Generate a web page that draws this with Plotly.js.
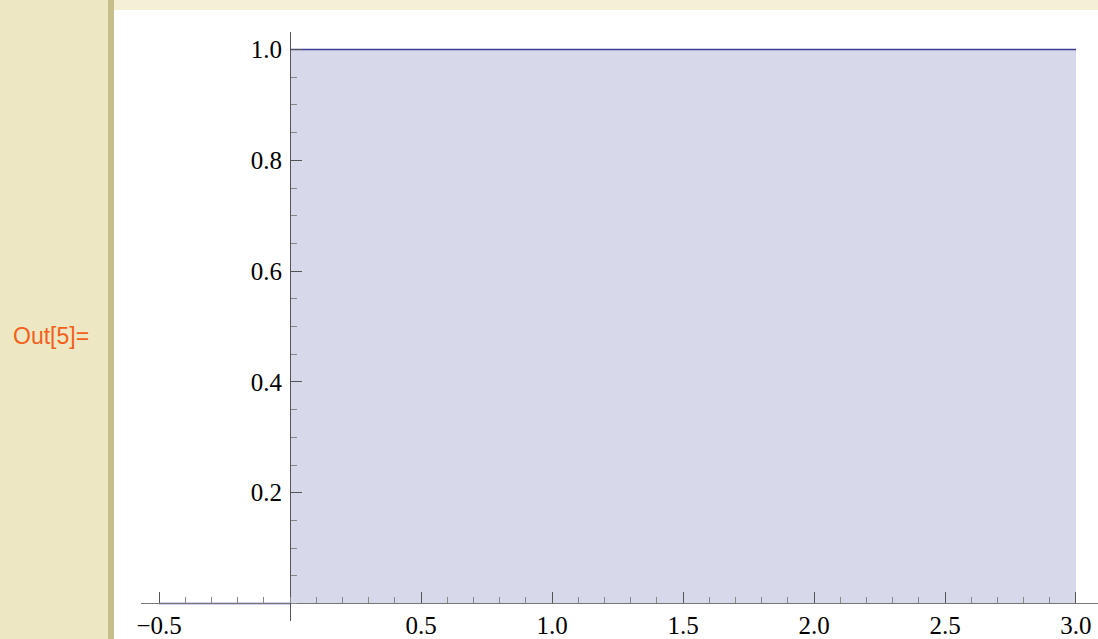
<!DOCTYPE html>
<html>
<head>
<meta charset="utf-8">
<script src="https://cdn.plot.ly/plotly-3.0.1.min.js"></script>
<style>
  html, body { margin: 0; padding: 0; background: #ffffff; }
  #chart { width: 1098px; height: 639px; }
</style>
</head>
<body>
<div id="chart"></div>
<script>
// ---- data ----
const lowX = [-0.5, 0];        // UnitStep = 0 for x < 0
const lowY = [0, 0];
const highX = [0, 3];          // UnitStep = 1 for x >= 0
const highY = [1, 1];

const xTickVals = [-0.5, 0.5, 1.0, 1.5, 2.0, 2.5, 3.0];
const xTickText = ["\u22120.5", "0.5", "1.0", "1.5", "2.0", "2.5", "3.0"];
const yTickVals = [0.2, 0.4, 0.6, 0.8, 1.0];
const yTickText = ["0.2", "0.4", "0.6", "0.8", "1.0"];

// ---- geometry ----
const W = 1098, H = 639;
const mL = 141, mR = 0, mT = 32, mB = 18;
const plotW = W - mL - mR, plotH = H - mT - mB;
const xRange = [-0.569, 3.084];
const yRange = [-0.0316, 1.0316];
const px2x = p => (p - mL) / plotW;
const py2y = p => (H - mB - p) / plotH;

const lineColor = "#3d3d99";
const fillColor = "#d8d8eb";
const tickFont = { family: "Liberation Serif, Times New Roman, serif", size: 25, color: "#000000" };

const traces = [
  {
    x: highX, y: highY, type: "scatter", mode: "lines",
    line: { color: lineColor, width: 1.5 },
    fill: "tozeroy", fillcolor: fillColor,
    hoverinfo: "skip", showlegend: false
  },
  {
    x: lowX, y: lowY, type: "scatter", mode: "lines",
    line: { color: lineColor, width: 1.5 },
    hoverinfo: "skip", showlegend: false
  }
];

const layout = {
  width: W, height: H,
  margin: { l: mL, r: mR, t: mT, b: mB, pad: 0 },
  paper_bgcolor: "#ffffff",
  plot_bgcolor: "rgba(0,0,0,0)",
  showlegend: false,
  xaxis: {
    range: xRange, anchor: "free",
    position: (0 - yRange[0]) / (yRange[1] - yRange[0]),
    showgrid: false, zeroline: false,
    showline: true, linecolor: "#777777", linewidth: 1,
    tickmode: "array", tickvals: xTickVals, ticktext: xTickText,
    ticks: "inside", ticklen: 11, tickwidth: 1, tickcolor: "#555555",
    tickfont: tickFont,
    minor: { tickmode: "linear", tick0: 0, dtick: 0.1, ticks: "inside", ticklen: 6, tickwidth: 1, tickcolor: "#888888", showgrid: false },
    fixedrange: true
  },
  yaxis: {
    range: yRange, anchor: "free",
    position: (0 - xRange[0]) / (xRange[1] - xRange[0]),
    showgrid: false, zeroline: false,
    showline: true, linecolor: "#555555", linewidth: 1,
    tickmode: "array", tickvals: yTickVals, ticktext: yTickText,
    ticks: "inside", ticklen: 11, tickwidth: 1, tickcolor: "#555555",
    tickfont: tickFont, ticklabelstandoff: 3,
    minor: { tickmode: "linear", tick0: 0, dtick: 0.05, ticks: "inside", ticklen: 6, tickwidth: 1, tickcolor: "#888888", showgrid: false },
    fixedrange: true
  },
  shapes: [
    { type: "rect", xref: "paper", yref: "paper", layer: "below",
      x0: px2x(0), x1: px2x(108), y0: py2y(H), y1: py2y(0),
      fillcolor: "#ede7c3", line: { width: 0 } },
    { type: "rect", xref: "paper", yref: "paper", layer: "below",
      x0: px2x(108), x1: px2x(114), y0: py2y(H), y1: py2y(0),
      fillcolor: "#c5be8a", line: { width: 0 } },
    { type: "rect", xref: "paper", yref: "paper", layer: "below",
      x0: px2x(114), x1: px2x(W), y0: py2y(10), y1: py2y(0),
      fillcolor: "#f6efd8", line: { width: 0 } }
  ],
  annotations: [
    { text: "Out[5]=", xref: "paper", yref: "paper",
      x: px2x(11), y: py2y(336), xanchor: "left", yanchor: "middle",
      showarrow: false,
      font: { family: "Liberation Sans, Arial, sans-serif", size: 23, color: "#f2601a" } }
  ]
};

Plotly.newPlot("chart", traces, layout, { displayModeBar: false, staticPlot: true });
</script>
</body>
</html>
